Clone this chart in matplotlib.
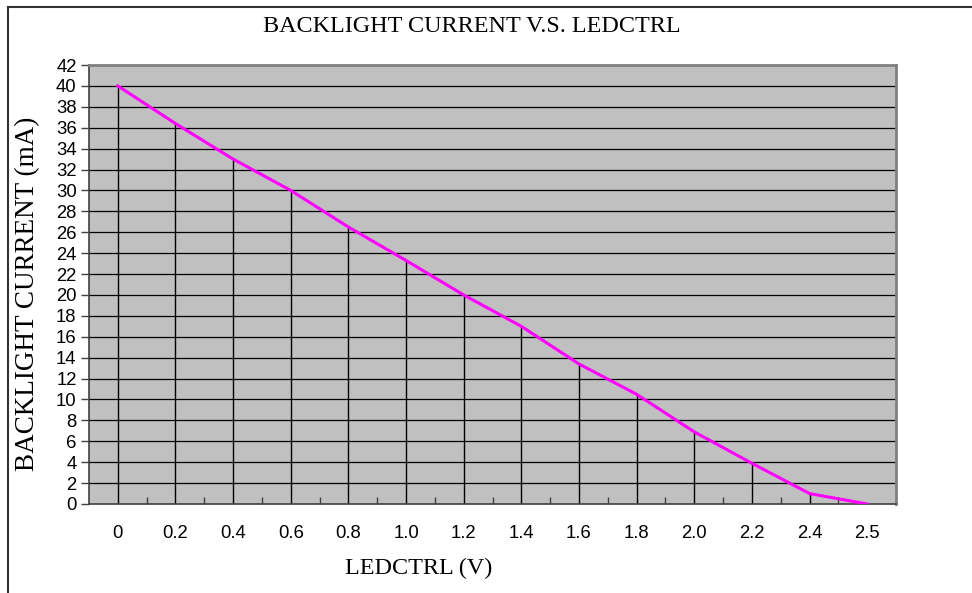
import matplotlib.pyplot as plt
import numpy as np
from matplotlib.patches import Rectangle

# LEDCTRL voltage categories and backlight current readings
ledctrl = ['0', '0.2', '0.4', '0.6', '0.8', '1.0', '1.2', '1.4',
           '1.6', '1.8', '2.0', '2.2', '2.4', '2.5']
current = [40, 36.4, 33, 30, 26.5, 23.3, 20, 17, 13.4, 10.5, 6.9, 3.9, 1, 0]
y_ticks = list(range(0, 43, 2))

serif = 'Liberation Serif'
sans = 'Liberation Sans'

fig = plt.figure(figsize=(9.72, 5.93), dpi=100)
ax = fig.add_axes([89/972, 1 - 504/593, (896 - 89)/972, (504 - 65)/593])
ax.set_facecolor('#c0c0c0')

idx = np.arange(len(ledctrl))

# Horizontal gridlines and drop lines
for y in y_ticks[1:-1]:
    ax.axhline(y, color='black', lw=0.9, zorder=1)
ax.vlines(idx, 0, current, color='black', lw=1.0, zorder=2)
ax.plot(idx, current, color='#ff00ff', lw=2.2, zorder=3)

ax.set_xlim(-0.5, len(ledctrl) - 0.5)
ax.set_ylim(0, 42)

ax.set_xticks(idx)
ax.set_xticklabels(ledctrl, fontfamily=sans, fontsize=13.3)
ax.tick_params(axis='x', which='major', length=0, pad=15)
ax.set_xticks(idx[:-1] + 0.5, minor=True)
ax.tick_params(axis='x', which='minor', direction='in', length=5, width=1, color='#404040')

ax.set_yticks(y_ticks)
ax.set_yticklabels([str(v) for v in y_ticks], fontfamily=sans, fontsize=13.3)
ax.tick_params(axis='y', direction='out', length=6, width=1, pad=3, color='#404040')

for side in ['top', 'right']:
    ax.spines[side].set_color('#808080')
    ax.spines[side].set_linewidth(2)
for side in ['left', 'bottom']:
    ax.spines[side].set_color('#404040')
    ax.spines[side].set_linewidth(1.2)

fig.text(472/972, 1 - 27/593, 'BACKLIGHT CURRENT V.S. LEDCTRL', ha='center', va='center',
         fontfamily=serif, fontsize=17.4)
fig.text(419/972, 1 - 568/593, 'LEDCTRL (V)', ha='center', va='center',
         fontfamily=serif, fontsize=17.4)
fig.text(28/972, 1 - 294/593, 'BACKLIGHT CURRENT (mA)', ha='center', va='center',
         rotation=90, fontfamily=serif, fontsize=19.5)

# Outer chart border (cut off at right and bottom)
fig.add_artist(Rectangle((8/972, -0.1), 1.2, 1.1 - 7/593, transform=fig.transFigure,
                         fill=False, edgecolor='#333333', lw=1.5))

fig.savefig('out.png', dpi=100)
